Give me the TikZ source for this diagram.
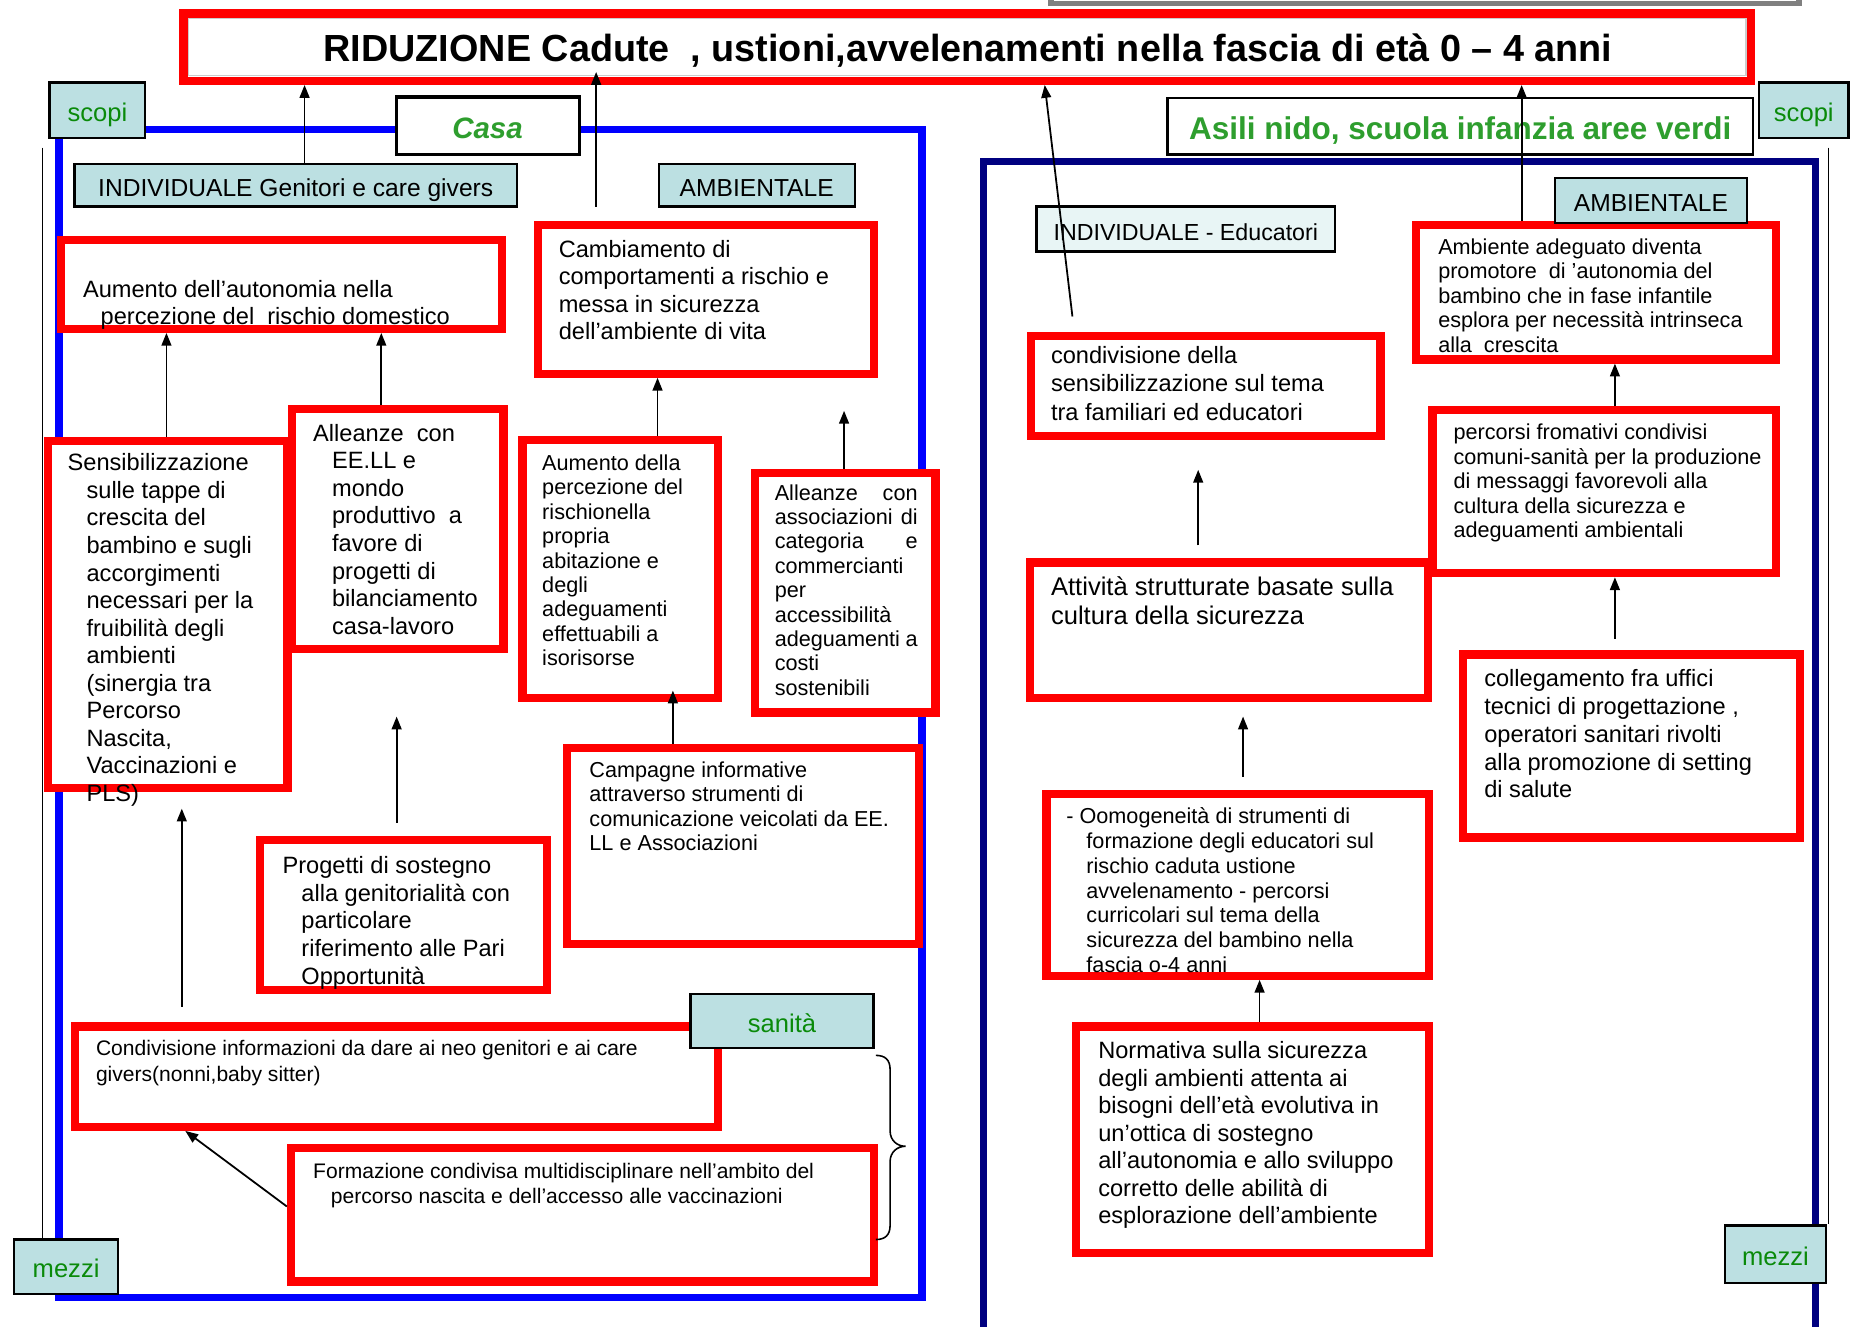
\documentclass[tikz,border=0pt]{standalone}
\usepackage{fontspec}
\setmainfont{Liberation Sans}
\usetikzlibrary{fit,arrows.meta}
\definecolor{lcyan}{HTML}{BCE0E2}
\definecolor{lcyantwo}{HTML}{E8F5F5}
\definecolor{tgreen}{HTML}{0A8A0A}
\definecolor{bgreen}{HTML}{2E9E2E}
\definecolor{navyf}{HTML}{000080}
\newcommand\RB[5]{\node[redbox,fit={(#2+3.5,#3+3.5) (#4-3.5,#5-3.5)}] (#1) {};}
\newcommand\LB[8][labbox]{\node[#1,fit={(#3+1,#4+1) (#5-1,#6-1)}] (#2) {};
  \node[inner sep=0pt,anchor=base,#7] (#2t) at ([yshift=-5.6pt]#2.center) {#8};}
\begin{document}
\begin{tikzpicture}[x=0.6pt,y=-0.6pt,
  redbox/.style={draw=red,line width=4.2pt,fill=white,inner sep=0pt},
  labbox/.style={draw=black,line width=1.2pt,fill=lcyan,inner sep=0pt},
  labboxtwo/.style={labbox,fill=lcyantwo},
  lt/.style={font=\fontsize{12.5}{14}\selectfont},
  ltwo/.style={font=\fontsize{11.8}{14}\selectfont},
  gt/.style={text=tgreen,font=\fontsize{13}{15}\selectfont},
  whitebox/.style={draw=black,line width=1.2pt,fill=white,inner sep=0pt},
  txt/.style={anchor=north west,inner sep=0pt,align=left},
  ta/.style={txt,font=\fontsize{12}{14}\selectfont},
  tb/.style={txt,font=\fontsize{11}{12.4}\selectfont},
  arr/.style={line width=0.9pt,-{Triangle[length=6.5pt,width=5pt]}},
  ]
\useasboundingbox (0,0) rectangle (1568,1124);
\fill[white] (0,0) rectangle (1568,1124);

% gray bar at top
\draw[gray,line width=3pt] (890,0) -- (890,3) -- (1524,3) -- (1524,0);

% frames
\draw[blue,line width=3.6pt] (50,110) rectangle (781,1099);
\draw[navyf,line width=3.6pt] (833,1124) -- (833,137) -- (1538,137) -- (1538,1124);
\draw[line width=0.9pt] (36,125) -- (36,1049);
\draw[line width=0.9pt] (1549,125) -- (1549,1037);

% title
\RB{title}{152}{8}{1487}{72}
\draw[gray!40,line width=0.6pt] (160,16) rectangle (1479,64);
\node[anchor=base,font=\bfseries\fontsize{19.2}{22}\selectfont] (titletext) at (820,52)
  {RIDUZIONE Cadute\ \ , ustioni,avvelenamenti nella fascia di età 0 – 4 anni};

% section headers
\node[whitebox,fit={(336,83) (491,131)}] (casa) {};
\draw[line width=2pt] (casa.north west) -- (casa.north east);
\node[anchor=base,font=\bfseries\itshape\fontsize{15}{16}\selectfont,text=bgreen] (casat) at (413,117) {Casa};
\node[whitebox,fit={(989,83) (1485,131)}] (asili) {};
\node[anchor=base,font=\bfseries\fontsize{16}{18}\selectfont,text=bgreen] (asilit) at (1237,118) {Asili nido, scuola infanzia aree verdi};

% ---------- left red boxes
\RB{a1}{48}{200}{429}{282}
\node[ta,font=\fontsize{12}{13.8}\selectfont] (t1) at (70,237) {Aumento dell'autonomia nella\\\hspace*{9pt}percezione del\ \ rischio domestico};
\RB{a2}{452}{187}{744}{320}
\node[ta] (t2) at (473,203) {Cambiamento di\\comportamenti a rischio e\\messa in sicurezza\\dell'ambiente di vita};
\RB{a3}{37}{370}{247}{671}
\node[ta] (t3) at (73,384) {\hspace*{-9.6pt}Sensibilizzazione\\sulle tappe di\\crescita del\\bambino e sugli\\accorgimenti\\necessari per la\\fruibilità degli\\ambienti\\(sinergia tra\\Percorso\\Nascita,\\Vaccinazioni e\\PLS)};
\RB{a4}{244}{343}{430}{553}
\node[ta] (t4) at (281,359) {\hspace*{-9.6pt}Alleanze\ \ con\\EE.LL e\\mondo\\produttivo\ \ a\\favore di\\progetti di\\bilanciamento\\casa-lavoro};
\RB{a5}{439}{369}{612}{595}
\node[tb] (t5) at (459,385) {Aumento della\\percezione del\\rischionella\\propria\\abitazione e\\degli\\adeguamenti\\effettuabili a\\isorisorse};
\RB{a6}{636}{397}{796}{607}
\node[tb] (t6) at (656,410) {\makebox[72.6pt][s]{Alleanze con}\\\makebox[72.6pt][s]{associazioni di}\\\makebox[72.6pt][s]{categoria e}\\commercianti\\per\\accessibilità\\\makebox[72.6pt][s]{adeguamenti a}\\costi\\sostenibili};
\RB{a7}{477}{630}{782}{803}
\node[tb] (t7) at (499,645) {Campagne informative\\attraverso strumenti di\\comunicazione veicolati da EE.\\LL e Associazioni};
\RB{a8}{217}{708}{467}{842}
\node[ta,font=\fontsize{12}{14.1}\selectfont] (t8) at (255,725) {\hspace*{-9.6pt}Progetti di sostegno\\alla genitorialità con\\particolare\\riferimento alle Pari\\Opportunità};
\RB{a9}{60}{866}{612}{958}
\node[txt,font=\fontsize{10.7}{13.2}\selectfont] (t9) at (81,881) {Condivisione informazioni da dare ai neo genitori e ai care\\givers(nonni,baby sitter)};
\RB{a11}{243}{969}{744}{1089}
\node[txt,font=\fontsize{10.7}{12.6}\selectfont] (t11) at (265,985) {Formazione condivisa multidisciplinare nell'ambito del\\\hspace*{9pt}percorso nascita e dell'accesso alle vaccinazioni};

% ---------- right red boxes
\RB{R1}{870}{281}{1173}{373}
\node[ta,font=\fontsize{12}{14.4}\selectfont] (u1) at (890,293) {condivisione della\\sensibilizzazione sul tema\\tra familiari ed educatori};
\RB{R2}{1196}{187}{1508}{308}
\node[tb] (u2) at (1218,202) {Ambiente adeguato diventa\\promotore\ \ di 'autonomia del\\bambino che in fase infantile\\esplora per necessità intrinseca\\alla\ \ crescita};
\RB{R3}{1210}{344}{1508}{489}
\node[tb] (u3) at (1231,359) {percorsi fromativi condivisi\\comuni-sanità per la produzione\\di messaggi favorevoli alla\\cultura della sicurezza e\\adeguamenti ambientali};
\RB{R4}{869}{473}{1213}{595}
\node[txt,font=\fontsize{13}{15}\selectfont] (u4) at (890,488) {Attività strutturate basate sulla\\cultura della sicurezza};
\RB{R5}{1236}{551}{1528}{713}
\node[ta,font=\fontsize{12}{14.1}\selectfont] (u5) at (1257,567) {collegamento fra uffici\\tecnici di progettazione ,\\operatori sanitari rivolti\\alla promozione di setting\\di salute};
\RB{R6}{883}{669}{1214}{830}
\node[txt,font=\fontsize{11}{12.6}\selectfont] (u6) at (920,684) {\hspace*{-10.2pt}- Oomogeneità di strumenti di\\formazione degli educatori sul\\rischio caduta ustione\\avvelenamento - percorsi\\curricolari sul tema della\\sicurezza del bambino nella\\fascia o-4 anni};
\RB{R7}{908}{866}{1214}{1065}
\node[ta] (u7) at (930,882) {Normativa sulla sicurezza\\degli ambienti attenta ai\\bisogni dell'età evolutiva in\\un'ottica di sostegno\\all'autonomia e allo sviluppo\\corretto delle abilità di\\esplorazione dell'ambiente};

% ---------- label boxes
\LB{scopiL}{41}{69}{124}{118}{gt}{scopi}
\LB{scopiR}{1489}{69}{1567}{118}{gt}{scopi}
\LB{mezziL}{11}{1049}{101}{1097}{gt}{mezzi}
\LB{mezziR}{1460}{1037}{1548}{1088}{gt}{mezzi}
\LB{sanita}{584}{841}{741}{889}{gt}{sanità}
\LB{INDL}{62}{138}{439}{176}{lt}{INDIVIDUALE Genitori e care givers}
\LB{AMBL}{557}{138}{725}{176}{lt}{AMBIENTALE}
\LB[labboxtwo]{INDR}{877}{174}{1132}{214}{ltwo}{INDIVIDUALE - Educatori}
\LB{AMBR}{1316}{150}{1481}{190}{lt}{AMBIENTALE}

% brace
\draw[line width=0.8pt] (742,894) .. controls (750,894) and (754,898) .. (754,906) -- (754,958)
  .. controls (754,966) and (760,971) .. (767,971) .. controls (760,971) and (754,976) .. (754,984)
  -- (754,1038) .. controls (754,1046) and (750,1050) .. (742,1050);

% ---------- arrows left
\draw[arr] (258,0 |- INDL.north) -- (258,0 |- title.south);
\draw[arr,shorten <=7.2pt,shorten >=-6.6pt] (505,0 |- a2.north) -- (505,0 |- title.south);
\draw[arr] (141,0 |- a3.north) -- (141,0 |- a1.south);
\draw[arr] (323,0 |- a4.north) -- (323,0 |- a1.south);
\draw[arr] (557,0 |- a5.north) -- (557,0 |- a2.south);
\draw[arr,shorten >=16.8pt] (715,0 |- a6.north) -- (715,0 |- a2.south);
\draw[arr,shorten >=-6pt] (570,0 |- a7.north) -- (570,0 |- a5.south);
\draw[arr,shorten <=6.6pt,shorten >=32.4pt] (336,0 |- a8.north) -- (336,0 |- a4.south);
\draw[arr,shorten <=7.8pt,shorten >=8.4pt] (154,0 |- a9.north) -- (154,0 |- a3.south);
\draw[arr] (a11.west |- 0,1022) -- (157,0 |- a9.south);

% ---------- arrows right
\draw[arr,shorten <=7.8pt] (910,0 |- R1.north) -- (885,0 |- title.south);
\draw[arr] (1289,0 |- R2.north) -- (1289,0 |- title.south);
\draw[arr] (1368,0 |- R3.north) -- (1368,0 |- R2.south);
\draw[arr,shorten <=6pt] (1368,0 |- R5.north) -- (1368,0 |- R3.south);
\draw[arr,shorten <=6.6pt,shorten >=15pt] (1015,0 |- R4.north) -- (1015,0 |- R1.south);
\draw[arr,shorten <=6.6pt,shorten >=7.2pt] (1053,0 |- R6.north) -- (1053,0 |- R4.south);
\draw[arr] (1067,0 |- R7.north) -- (1067,0 |- R6.south);
\end{tikzpicture}
\end{document}
